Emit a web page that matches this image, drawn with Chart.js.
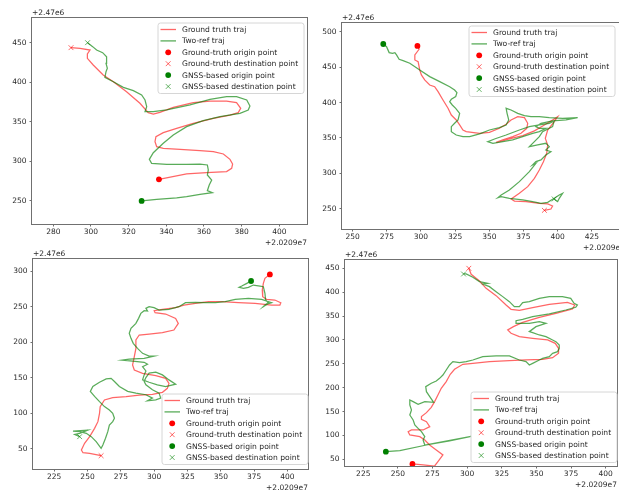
<!DOCTYPE html>
<html>
<head>
<meta charset="utf-8">
<title>Trajectories</title>
<script src="https://cdn.jsdelivr.net/npm/chart.js@4.4.1/dist/chart.umd.min.js"></script>
<style>
      html, body { margin: 0; padding: 0; background: #fff; overflow: hidden; }
      #fig { position: relative; width: 619px; height: 492px; overflow: hidden; background: #fff; }
      #fig canvas { position: absolute; }
</style>
</head>
<body>
<div id="fig">
      <canvas id="p1"></canvas>
      <canvas id="p2"></canvas>
      <canvas id="p3"></canvas>
      <canvas id="p4"></canvas>
</div>
<script>
// axis offsets (matplotlib offset text)
const xOffsetLabel = "+2.0209e7";
const yOffsetLabel = "+2.47e6";

const legendLabels = [
      "Ground truth traj",
      "Two-ref traj",
      "Ground-truth origin point",
      "Ground-truth destination point",
      "GNSS-based origin point",
      "GNSS-based destination point",
];

// tick labels per panel (values relative to the offsets)
const xTicks1 = [280, 300, 320, 340, 360, 380, 400];
const yTicks1 = [250, 300, 350, 400, 450];
const xTicks2 = [250, 275, 300, 325, 350, 375, 400, 425];
const yTicks2 = [250, 300, 350, 400, 450, 500];
const xTicks3 = [225, 250, 275, 300, 325, 350, 375, 400];
const yTicks3 = [50, 100, 150, 200, 250, 300];
const xTicks4 = [225, 250, 275, 300, 325, 350, 375, 400];
const yTicks4 = [50, 100, 150, 200, 250, 300, 350, 400, 450];

// panel 1 (top left)
const gtTraj1 = [[336.1,277.4],[350.8,284.1],[361.4,285.8],[372.0,287.1],[374.7,291.3],[375.2,296.7],[373.8,302.6],[370.3,309.4],[365.0,312.3],[357.9,313.6],[347.3,315.2],[338.4,316.5],[334.9,318.6],[334.0,325.0],[334.5,331.3],[338.4,336.3],[345.5,341.8],[354.3,348.1],[365.0,354.4],[373.8,358.6],[378.2,361.6],[379.5,367.1],[377.3,374.2],[372.0,376.3],[363.2,376.3],[354.3,374.2],[343.7,368.3],[336.6,362.0],[333.1,359.9],[330.4,361.6],[326.0,373.4],[318.9,388.1],[311.9,400.7],[306.5,409.2],[301.2,421.8],[298.1,430.2],[298.1,435.7],[299.5,440.7],[294.2,442.8],[289.4,443.7]];
const refTraj1 = [[326.9,250.0],[334.9,252.1],[345.5,253.8],[350.8,255.5],[357.9,258.4],[364.4,260.5],[361.8,263.0],[362.8,270.2],[364.1,276.5],[361.8,282.8],[362.3,289.2],[361.8,295.5],[357.9,296.7],[350.8,296.3],[340.2,296.3],[332.2,297.6],[331.0,302.6],[333.1,311.0],[338.4,322.9],[343.7,333.4],[350.8,343.9],[359.6,351.5],[368.5,356.5],[379.1,360.7],[383.5,365.0],[384.4,370.0],[382.7,377.6],[377.3,381.8],[372.0,381.8],[363.2,378.4],[352.6,371.3],[340.2,365.0],[333.1,362.8],[328.7,362.8],[329.6,369.2],[328.7,377.6],[326.9,383.9],[322.5,389.4],[317.2,393.6],[311.9,400.7],[307.4,406.2],[308.0,413.4],[308.7,417.6],[308.0,423.9],[308.3,432.3],[306.2,437.4],[303.0,440.7],[300.9,445.0],[299.1,448.3],[298.2,450.0]];

// panel 2 (top right)
const gtTraj2 = [[297.4,480.2],[298.6,475.5],[295.5,467.5],[295.5,460.4],[297.9,458.0],[299.1,446.2],[300.3,439.2],[302.7,432.1],[306.4,425.0],[310.0,422.6],[312.5,415.6],[316.1,403.8],[319.8,392.0],[322.2,382.5],[325.8,375.5],[328.3,368.4],[330.7,361.3],[333.1,359.0],[342.9,356.6],[350.1,358.0],[357.4,363.7],[362.3,369.3],[365.9,375.5],[370.8,380.2],[375.7,378.8],[378.1,370.8],[377.4,363.7],[373.2,356.6],[367.2,351.9],[359.9,347.2],[355.0,343.9],[357.4,344.8],[364.7,348.6],[374.5,353.3],[383.0,360.0],[390.3,368.4],[396.3,375.5],[400.0,380.2],[397.5,373.1],[392.7,361.3],[391.0,349.5],[392.7,340.1],[392.0,328.3],[389.6,316.5],[386.6,304.7],[383.0,292.9],[378.1,281.1],[372.0,271.7],[366.0,263.7],[368.4,260.8],[376.9,259.9],[386.6,257.5],[392.7,256.6],[396.3,253.8],[395.1,249.5],[390.3,247.6]];
const refTraj2 = [[272.4,483.0],[274.8,479.2],[276.7,470.8],[279.2,469.8],[280.9,470.8],[282.1,467.5],[284.0,461.3],[286.9,459.4],[291.8,455.7],[299.1,446.2],[306.4,436.8],[313.7,429.7],[321.0,422.6],[324.6,417.9],[326.3,414.2],[325.4,408.5],[322.2,404.7],[321.0,401.4],[322.9,396.7],[325.4,392.0],[328.3,384.9],[327.1,375.5],[324.6,370.8],[322.2,366.0],[322.2,358.9],[325.8,354.2],[330.7,351.9],[335.6,351.9],[342.9,355.7],[350.1,361.3],[357.4,364.6],[362.3,368.4],[364.2,375.5],[363.0,384.9],[362.3,392.0],[365.9,389.6],[370.8,384.9],[375.7,381.6],[380.5,380.2],[386.6,380.2],[393.9,378.8],[403.6,377.8],[414.6,378.8],[406.1,375.5],[396.3,374.1],[387.8,370.8],[384.1,366.0],[386.6,363.7],[391.4,363.7],[386.6,359.0],[381.7,356.6],[374.4,351.9],[367.1,347.2],[359.9,344.8],[352.6,342.5],[348.9,344.8],[353.8,348.6],[362.3,354.2],[372.0,361.3],[379.3,366.0],[386.6,368.4],[393.9,370.8],[397.5,374.1],[396.3,366.0],[389.0,359.0],[386.6,351.9],[383.0,344.8],[379.3,337.7],[385.4,340.1],[391.4,342.5],[393.9,337.7],[391.4,333.0],[395.1,330.7],[391.4,325.9],[387.8,318.9],[384.1,316.5],[381.7,311.8],[384.1,314.2],[379.3,302.4],[372.0,288.2],[364.7,276.4],[358.7,269.3],[356.3,265.6],[358.7,267.0],[364.7,264.6],[374.4,262.3],[381.7,259.9],[387.8,257.5],[392.7,259.0],[397.5,264.6],[401.2,269.3],[403.6,271.7],[401.2,264.6],[400.0,259.9],[397.5,263.7]];

// panel 3 (bottom left)
const gtTraj3 = [[386.8,295.3],[383.1,289.7],[381.9,282.7],[381.1,273.3],[381.4,264.0],[384.3,260.2],[390.5,259.3],[395.0,255.5],[394.3,252.2],[388.1,252.2],[375.7,254.6],[363.2,255.5],[350.8,256.9],[340.9,256.9],[331.0,254.6],[322.3,252.2],[316.1,248.5],[306.2,246.2],[300.0,244.3],[300.7,241.5],[308.6,239.6],[316.1,233.5],[318.1,226.5],[314.8,217.1],[306.2,213.4],[296.2,211.5],[288.8,210.1],[286.3,203.1],[286.3,191.4],[285.1,179.7],[283.8,168.0],[285.1,161.0],[291.3,156.3],[301.2,153.0],[308.6,149.3],[311.1,142.2],[309.9,135.2],[306.2,129.6],[298.7,126.8],[288.8,125.8],[278.9,123.5],[268.9,122.1],[262.7,118.8],[259.5,109.5],[259.0,100.1],[257.8,88.4],[255.3,79.0],[251.6,67.3],[247.8,58.0],[245.4,48.6],[246.6,44.8],[251.6,43.9],[260.2,40.6]];
const refTraj3 = [[372.7,286.0],[369.5,282.7],[365.7,278.9],[363.7,277.1],[367.0,275.7],[370.7,277.1],[374.4,280.3],[379.4,278.9],[381.9,278.0],[383.1,268.6],[383.6,259.3],[385.6,255.5],[383.1,252.2],[381.9,249.9],[385.1,253.7],[388.1,255.5],[380.6,260.2],[370.7,261.6],[360.8,260.2],[353.3,256.9],[345.9,255.5],[338.4,255.5],[331.0,256.0],[323.5,255.5],[318.6,249.9],[311.1,246.2],[303.7,245.2],[299.9,248.5],[296.2,249.9],[293.8,247.6],[295.0,243.8],[292.5,244.3],[290.0,240.5],[288.3,233.5],[286.3,226.5],[282.6,219.5],[281.3,212.5],[282.6,205.4],[284.3,198.4],[287.5,191.4],[291.3,184.4],[296.2,180.6],[300.0,180.6],[292.5,177.3],[281.3,176.4],[275.9,175.0],[283.8,173.6],[292.5,171.8],[295.0,169.0],[291.3,165.6],[293.8,159.6],[292.5,154.1],[291.3,147.1],[296.2,143.8],[302.4,140.1],[308.6,137.8],[316.1,141.1],[311.1,147.1],[306.2,154.1],[301.2,157.9],[296.2,156.5],[293.8,150.4],[292.5,144.8],[293.8,140.1],[298.7,133.1],[303.7,128.5],[304.9,121.5],[301.2,119.1],[295.0,117.7],[298.7,121.5],[293.8,126.2],[286.3,128.5],[280.1,130.9],[273.9,137.9],[270.2,144.9],[267.7,149.3],[264.0,148.5],[259.0,143.8],[254.0,137.9],[252.1,130.9],[255.3,123.9],[259.0,116.5],[262.7,109.5],[266.4,104.8],[268.9,100.1],[270.2,93.1],[268.9,88.4],[266.4,83.7],[265.2,74.3],[263.5,65.0],[261.5,55.6],[260.2,50.9],[256.5,60.3],[252.8,67.3],[249.1,72.0],[244.1,74.3],[239.1,75.2],[250.3,76.6],[244.1,71.9],[240.4,70.4],[244.1,67.3]];

// panel 4 (bottom right)
const gtTraj4 = [[260.5,40.2],[268.2,38.1],[276.5,36.0],[278.9,45.1],[282.5,59.1],[277.7,69.5],[272.9,80.0],[269.4,90.5],[265.8,97.5],[258.6,101.0],[257.4,107.9],[259.8,111.4],[268.2,111.4],[273.0,118.4],[270.6,128.9],[267.0,133.8],[267.0,139.4],[270.6,147.7],[274.1,158.9],[276.5,170.8],[278.9,184.7],[281.3,198.7],[284.9,212.7],[287.8,228.0],[290.9,238.5],[296.9,249.0],[304.1,251.0],[316.1,254.5],[330.5,256.6],[342.5,258.0],[354.5,259.4],[361.7,262.9],[366.0,272.0],[366.0,282.5],[363.6,292.9],[358.1,299.9],[347.3,303.4],[337.7,306.9],[331.7,313.9],[329.3,320.9],[333.4,327.8],[340.1,336.9],[352.1,347.4],[364.1,355.8],[376.0,364.8],[377.7,373.2],[372.4,378.8],[359.3,374.6],[347.3,367.6],[337.7,362.0],[331.7,364.1],[328.1,373.2],[320.9,392.8],[313.7,408.1],[308.9,423.5],[302.9,437.4],[301.2,450.0]];
const refTraj4 = [[241.3,66.1],[251.4,68.2],[270.6,80.0],[287.3,88.4],[302.9,98.2],[269.4,80.0],[268.2,90.5],[269.4,97.5],[267.0,107.9],[264.6,114.9],[262.2,121.9],[261.0,132.4],[258.6,142.8],[259.8,153.3],[258.6,163.8],[258.6,174.3],[261.0,170.8],[264.6,165.2],[269.4,170.8],[275.8,169.4],[273.0,181.2],[270.6,191.7],[270.1,202.2],[274.1,209.2],[277.7,214.1],[280.1,219.6],[282.5,226.6],[284.9,237.1],[287.3,247.6],[289.7,254.5],[294.5,252.4],[299.3,254.5],[304.1,258.0],[311.3,265.0],[320.9,266.4],[330.5,266.4],[337.7,258.0],[342.5,254.5],[344.9,247.6],[347.3,251.0],[352.1,258.0],[354.5,261.5],[359.3,265.0],[361.7,272.0],[365.3,275.5],[366.5,282.5],[366.5,289.4],[364.1,296.4],[361.7,299.9],[356.9,306.9],[352.1,310.4],[347.3,315.3],[344.9,317.4],[349.7,327.8],[356.9,334.8],[352.1,338.3],[344.9,334.8],[340.1,334.8],[335.3,334.8],[335.3,340.4],[340.1,343.2],[347.3,348.8],[359.3,354.4],[371.2,362.7],[378.4,368.3],[379.6,373.2],[377.2,376.7],[374.8,387.2],[368.8,390.7],[359.3,390.7],[352.1,387.2],[344.9,380.2],[340.1,378.1],[337.7,369.7],[334.1,369.7],[330.5,380.2],[325.7,390.7],[320.9,401.1],[316.1,411.6],[311.3,417.2],[314.9,418.6],[308.9,422.1],[304.1,431.2],[299.3,438.1],[297.4,438.1]];

const GT_LINE = "rgba(255, 0, 0, 0.6)";
const REF_LINE = "rgba(0, 128, 0, 0.65)";
const GT_DOT = "#ff0000";
const REF_DOT = "#008000";
const GT_CROSS = "rgba(255, 0, 0, 0.6)";
const REF_CROSS = "rgba(0, 128, 0, 0.6)";
const FONT = "DejaVu Sans";

let panels = [
      { id: "p1", left: 0, top: 0, width: 312, height: 252, area: { l: 32, t: 18, r: 307, b: 224 },
            xr: [268.7, 414.7], yr: [220.9, 481.2], xt: xTicks1, yt: yTicks1, gt: gtTraj1, ref: refTraj1, legend: { x: 158, y: 23 } },
      { id: "p2", left: 310, top: 0, width: 320, height: 252, area: { l: 32, t: 23, r: 316, b: 229 },
            xr: [242.2, 449.3], yr: [221.2, 512.7], xt: xTicks2, yt: yTicks2, gt: gtTraj2, ref: refTraj2, legend: { x: 159, y: 26 } },
      { id: "p3", left: 0, top: 245, width: 313, height: 247, area: { l: 33, t: 14, r: 310, b: 224 },
            xr: [209.1, 415.4], yr: [21.9, 316.9], xt: xTicks3, yt: yTicks3, gt: gtTraj3, ref: refTraj3, legend: { x: 162, y: 149 } },
      { id: "p4", left: 312, top: 245, width: 310, height: 247, area: { l: 33, t: 15, r: 306, b: 221 },
            xr: [211.8, 408.2], yr: [36.0, 467.4], xt: xTicks4, yt: yTicks4, gt: gtTraj4, ref: refTraj4, legend: { x: 159, y: 147 } },
];

let toPoints = (traj) => traj.map((p) => ({ x: p[0], y: p[1] }));

// box around the axes + offset texts
const framePlugin = {
      id: "frame",
      afterDraw(chart) {
            let ctx = chart.ctx;
            let a = chart.chartArea;
            ctx.save();
            ctx.strokeStyle = "#707070";
            ctx.lineWidth = 1;
            ctx.strokeRect(a.left - 0.5, a.top - 0.5, a.right - a.left + 1, a.bottom - a.top + 1);
            ctx.fillStyle = "#2a2a2a";
            ctx.font = `7.5px "${FONT}"`;
            ctx.textBaseline = "middle";
            ctx.textAlign = "left";
            ctx.fillText(yOffsetLabel, a.left, a.top - 5);
            ctx.textAlign = "right";
            ctx.fillText(xOffsetLabel, a.right, a.bottom + 19.5);
            ctx.restore();
      }
};

// matplotlib style legend inside the axes
const legendPlugin = {
      id: "boxLegend",
      afterDraw(chart, args, opts) {
            let ctx = chart.ctx;
            let x = opts.x, y = opts.y, w = 146, h = 70.5, r = 2.5;
            ctx.save();
            ctx.beginPath();
            ctx.moveTo(x + r, y);
            ctx.arcTo(x + w, y, x + w, y + h, r);
            ctx.arcTo(x + w, y + h, x, y + h, r);
            ctx.arcTo(x, y + h, x, y, r);
            ctx.arcTo(x, y, x + w, y, r);
            ctx.closePath();
            ctx.fillStyle = "rgba(255,255,255,0.8)";
            ctx.fill();
            ctx.strokeStyle = "#d6d6d6";
            ctx.lineWidth = 1;
            ctx.stroke();
            let kinds = [
                  { k: "line", c: GT_LINE },
                  { k: "line", c: REF_LINE },
                  { k: "dot", c: GT_DOT },
                  { k: "cross", c: GT_CROSS },
                  { k: "dot", c: REF_DOT },
                  { k: "cross", c: REF_CROSS },
            ];
            ctx.font = `7.6px "${FONT}"`;
            ctx.textBaseline = "middle";
            ctx.textAlign = "left";
            legendLabels.forEach((label, i) => {
                  let cy = y + 6.5 + i * 11.4;
                  let cx = x + 10.2;
                  let item = kinds[i];
                  if (item.k === "line") {
                        ctx.strokeStyle = item.c;
                        ctx.lineWidth = 1.3;
                        ctx.beginPath();
                        ctx.moveTo(x + 2.5, cy);
                        ctx.lineTo(x + 18, cy);
                        ctx.stroke();
                  } else if (item.k === "dot") {
                        ctx.fillStyle = item.c;
                        ctx.beginPath();
                        ctx.arc(cx, cy, 2.9, 0, Math.PI * 2);
                        ctx.fill();
                  } else {
                        ctx.strokeStyle = item.c;
                        ctx.lineWidth = 1;
                        ctx.beginPath();
                        ctx.moveTo(cx - 2.4, cy - 2.4);
                        ctx.lineTo(cx + 2.4, cy + 2.4);
                        ctx.moveTo(cx - 2.4, cy + 2.4);
                        ctx.lineTo(cx + 2.4, cy - 2.4);
                        ctx.stroke();
                  }
                  ctx.fillStyle = "#2a2a2a";
                  ctx.fillText(label, x + 24, cy + 0.5);
            });
            ctx.restore();
      }
};

let buildDatasets = (gt, ref) => {
      let gtStart = gt[0], gtEnd = gt[gt.length - 1];
      let refStart = ref[0], refEnd = ref[ref.length - 1];
      return [
            { label: legendLabels[0], data: toPoints(gt), showLine: true, borderColor: GT_LINE, borderWidth: 1.25, pointRadius: 0, tension: 0, order: 6 },
            { label: legendLabels[1], data: toPoints(ref), showLine: true, borderColor: REF_LINE, borderWidth: 1.25, pointRadius: 0, tension: 0, order: 5 },
            { label: legendLabels[2], data: toPoints([gtStart]), pointStyle: "circle", pointRadius: 2.9, backgroundColor: GT_DOT, borderWidth: 0, order: 4 },
            { label: legendLabels[3], data: toPoints([gtEnd]), pointStyle: "crossRot", pointRadius: 3.4, borderColor: GT_CROSS, borderWidth: 1, order: 3 },
            { label: legendLabels[4], data: toPoints([refStart]), pointStyle: "circle", pointRadius: 2.9, backgroundColor: REF_DOT, borderWidth: 0, order: 2 },
            { label: legendLabels[5], data: toPoints([refEnd]), pointStyle: "crossRot", pointRadius: 3.4, borderColor: REF_CROSS, borderWidth: 1, order: 1 },
      ];
};

let axis = (range, tickValues, isX, size) => ({
      type: "linear",
      position: isX ? "bottom" : "left",
      min: range[0],
      max: range[1],
      afterBuildTicks: (scale) => {
            scale.ticks = tickValues.map((v) => ({ value: v }));
      },
      afterFit: (scale) => {
            if (isX) {
                  scale.height = size;
            } else {
                  scale.width = size;
            }
      },
      grid: { display: true, drawOnChartArea: false, drawTicks: true, tickLength: 2.5, color: "#707070", tickWidth: 1 },
      border: { display: false },
      ticks: {
            color: "#2a2a2a",
            font: { family: FONT, size: 7.5 },
            padding: isX ? 1 : 3,
            maxRotation: 0,
            autoSkip: false,
            callback: (v) => String(v),
      },
});

panels.forEach((p) => {
      let canvas = document.getElementById(p.id);
      canvas.width = p.width;
      canvas.height = p.height;
      canvas.style.left = p.left + "px";
      canvas.style.top = p.top + "px";
      canvas.style.width = p.width + "px";
      canvas.style.height = p.height + "px";
      new Chart(canvas.getContext("2d"), {
            type: "scatter",
            data: { datasets: buildDatasets(p.gt, p.ref) },
            options: {
                  responsive: false,
                  animation: false,
                  devicePixelRatio: 1,
                  events: [],
                  layout: { padding: { top: p.area.t, right: p.width - p.area.r, left: 0, bottom: 0 } },
                  scales: {
                        x: axis(p.xr, p.xt, true, p.height - p.area.b),
                        y: axis(p.yr, p.yt, false, p.area.l),
                  },
                  plugins: {
                        legend: { display: false },
                        tooltip: { enabled: false },
                        boxLegend: p.legend,
                  },
            },
            plugins: [framePlugin, legendPlugin],
      });
});
</script>
</body>
</html>
